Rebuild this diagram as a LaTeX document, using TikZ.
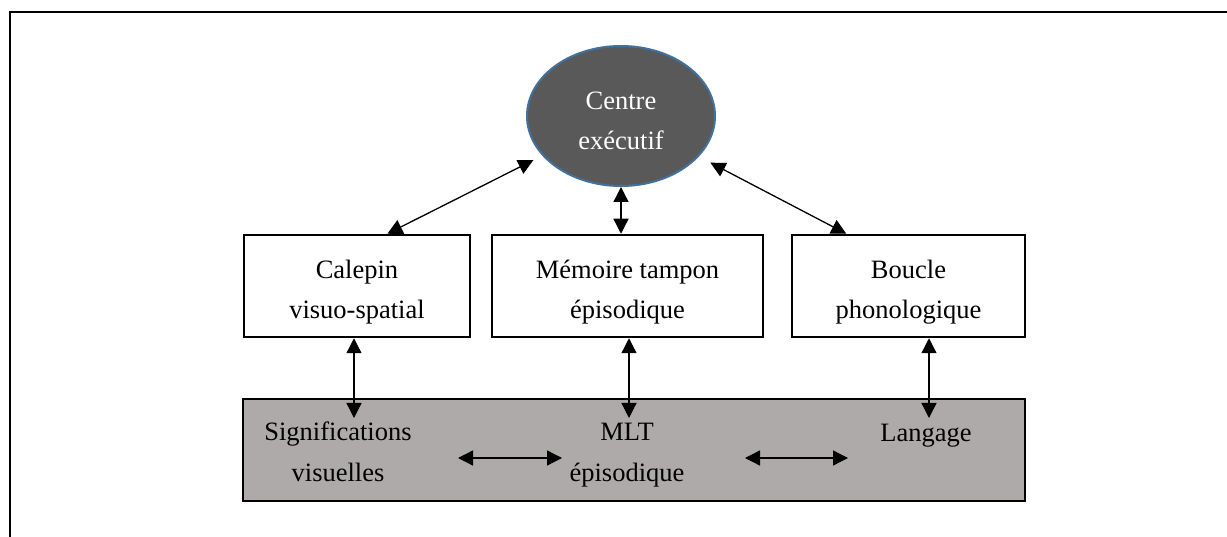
\documentclass[tikz,border=0pt]{standalone}
\usepackage{fontspec}
\setmainfont{Liberation Serif}
\usetikzlibrary{arrows.meta,shapes.geometric,calc}
\definecolor{ceblue}{RGB}{65,113,156}
\definecolor{cegray}{RGB}{89,89,89}
\definecolor{mltgray}{RGB}{174,170,170}
\begin{document}
\begin{tikzpicture}[x=1pt,y=-1pt,
  txt/.style={font=\fontsize{26.5}{40.5}\selectfont,align=center,inner sep=0pt},
  box/.style={draw=black,line width=2.5pt,fill=white,minimum width=226pt,minimum height=102pt,inner sep=0pt},
  link/.style={line width=1.3pt,{Triangle[length=15pt,width=15pt]}-{Triangle[length=15pt,width=15pt]}}]
\useasboundingbox (0,0) rectangle (1227,537);
% outer frame
\draw[line width=2.5pt] (10,537) -- (10,12) -- (1227,12);
% executive centre
\node[ellipse,draw=ceblue,line width=2pt,fill=cegray,minimum width=188pt,minimum height=140pt,inner sep=0pt] (ce) at (621,116) {};
\node[txt,text=white] (cet) at (621,121) {Centre\\exécutif};
% middle boxes
\node[box] (b1) at (357,286) {};
\node[box,minimum width=271pt] (b2) at (627.5,286) {};
\node[box,minimum width=233pt] (b3) at (908.5,286) {};
\node[txt] (b1t) at (357,292.3) {Calepin\\visuo-spatial};
\node[txt] (b2t) at (627.5,292.3) {Mémoire tampon\\épisodique};
\node[txt] (b3t) at (908.5,292.3) {Boucle\\phonologique};
% long-term memory box
\node[draw=black,line width=2.5pt,fill=mltgray,minimum width=782pt,minimum height=102pt,inner sep=0pt] (lt) at (634,450) {};
\node[txt] (sig) at (338,452) {Significations\\visuelles};
\node[txt] (mlt) at (627,455.2) {MLT\\épisodique};
\node[txt,anchor=base] (lang) at (926,441) {Langage};
% arrow ends
\coordinate (t1) at (354,418);
\coordinate (t2) at (629,418);
\coordinate (t3) at (929,418);
\coordinate (h1a) at (458,458);
\coordinate (h1b) at (562,458);
\coordinate (h2a) at (745,458);
\coordinate (h2b) at (848,458);
% connectors
\draw[link,shorten >=10pt] ($(b1.north west)!0.633!(b1.north east)$) -- (ce);
\draw[link,shorten <=13pt] (ce) -- ($(b3.north west)!0.236!(b3.north east)$);
\draw[link] (ce.south) -- (ce.south |- b2.north);
\draw[link] (t1 |- b1.south) -- (t1);
\draw[link] (t2 |- b2.south) -- (t2);
\draw[link] (t3 |- b3.south) -- (t3);
\draw[link] (h1a) -- (h1b);
\draw[link] (h2a) -- (h2b);
\end{tikzpicture}
\end{document}
